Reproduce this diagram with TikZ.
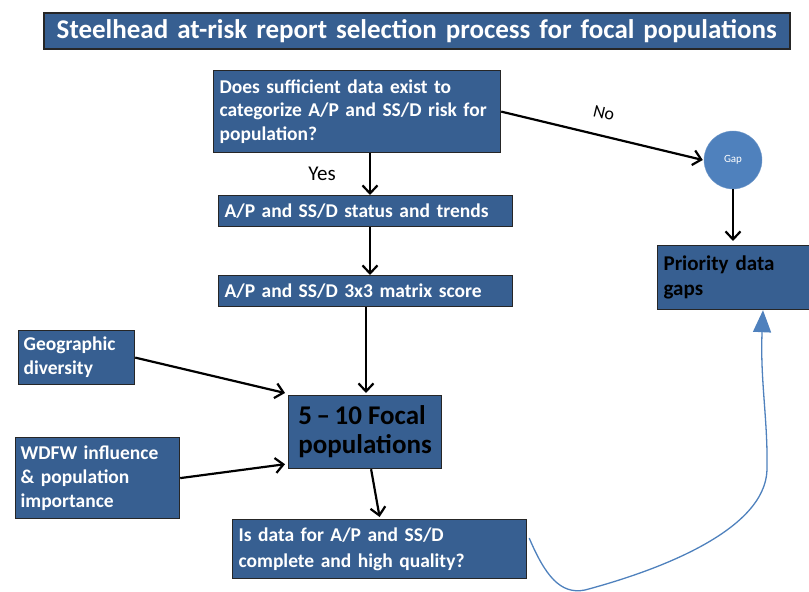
\documentclass[tikz,border=0pt]{standalone}
\usepackage{fontspec}
\setmainfont{Carlito}
\usetikzlibrary{arrows.meta,calc}
\definecolor{boxblue}{HTML}{375F91}
\definecolor{lightblue}{HTML}{4F81BD}
\begin{document}
\begin{tikzpicture}[x=1pt,y=-1pt,
  box/.style={draw=black!85, line width=1.2pt, fill=boxblue, anchor=north west,
    inner xsep=7pt, inner ysep=0pt, align=left, text=white,
    font=\bfseries\fontsize{19.5}{24}\selectfont},
  arr/.style={-{Straight Barb[length=8pt,width=15pt]}, line width=2.2pt, black},
  lbl/.style={font=\fontsize{21}{24}\selectfont, text=black}]
\useasboundingbox (0,0) rectangle (809,592);

\node[box, minimum width=746, minimum height=36, text width=734, align=center, inner xsep=6pt,
  font=\bfseries\fontsize{27}{30}\selectfont, line width=1.5pt] (title) at (43,12)
  {Steelhead at-risk report selection process for focal populations};

\node[box, minimum width=287, minimum height=82, text width=275, inner xsep=6pt,
  font=\bfseries\fontsize{19.5}{23.5}\selectfont] (q1) at (213,70)
  {Does sufficient data exist to\\ categorize A/P and SS/D risk for\\ population?};
\node[box, minimum width=294, minimum height=31, text width=282, inner xsep=6pt] (status) at (218,195)
  {A/P and SS/D status and trends};
\node[box, minimum width=294, minimum height=31, text width=282, inner xsep=6pt] (matrix) at (218,275)
  {A/P and SS/D 3x3 matrix score};
\node[box, minimum width=153, minimum height=73, inner xsep=6pt, text=black,
  font=\bfseries\fontsize{27}{29}\selectfont] (focal) at (288,395)
  {5\,--\,10 Focal\\ populations};
\node[box, minimum width=116, minimum height=54, text width=106, inner xsep=5pt] (geo) at (18,330)
  {Geographic\\ diversity};
\node[box, minimum width=164, minimum height=81, text width=154, inner xsep=5pt] (wdfw) at (15,437)
  {WDFW influence\\ \& population\\ importance};
\node[box, minimum width=294, minimum height=59, text width=282, inner xsep=6pt,
  font=\bfseries\fontsize{19.5}{26}\selectfont] (last) at (232,519)
  {Is data for A/P and SS/D\\ complete and high quality?};
\node[box, minimum width=152, minimum height=64, text width=140, inner xsep=6pt, text=black,
  font=\bfseries\fontsize{21}{25}\selectfont] (prio) at (657,245)
  {Priority data\\ gaps};
\node[circle, fill=lightblue, draw=lightblue!80!white, minimum size=58, inner sep=0pt,
  text=white, font=\fontsize{11}{12}\selectfont] (gap) at (733,160) {Gap};

\draw[arr] (q1.south -| 370,0) -- (status.north -| 370,0);
\node[lbl] (yes) at (322,174) {Yes};
\draw[arr] (status.south -| 370,0) -- (matrix.north -| 370,0);
\draw[arr] (matrix.south -| 366,0) -- ([yshift=2pt]focal.north -| 366,0);
\draw[arr] (geo.east) -- ([xshift=-3pt,yshift=2pt]focal.north west);
\draw[arr] (wdfw.east) -- ([xshift=-3pt,yshift=5pt]focal.south west);
\draw[arr] ([xshift=6pt]focal.south) -- ([yshift=2pt]last.north);
\draw[arr] (q1.east) -- ([xshift=-1pt]gap.west);
\node[font=\fontsize{18}{20}\selectfont, rotate=-13.5, inner sep=1pt] (no) at (604,113) {No};
\draw[arr] (gap.south) -- ([yshift=4pt]prio.north -| gap.south);
\draw[draw=lightblue, line width=1.3pt, -{Triangle[length=22pt,width=18pt,fill=lightblue]}]
  ([xshift=2pt,yshift=11pt]last.east) .. controls (545,575) and (560,595) .. (585,590)
  .. controls (660,570) and (765,530) .. (767,470)
  .. controls (768,420) and (760,380) .. (prio.south -| 763,0);
\end{tikzpicture}
\end{document}
